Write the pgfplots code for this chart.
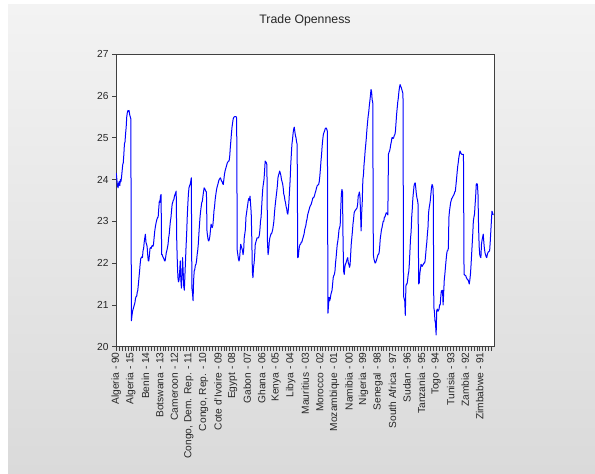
\documentclass[border=0pt]{standalone}
\usepackage{pgfplots}
\pgfplotsset{compat=1.18}
\usepackage{fontspec}
\setmainfont{Liberation Sans}
\definecolor{bgtop}{HTML}{F3F3F3}
\definecolor{bgbot}{HTML}{DADADA}
\definecolor{frame}{HTML}{404040}
\begin{document}
\begin{tikzpicture}
\useasboundingbox (0pt,0pt) rectangle (595pt,474pt);
\fill[white] (0pt,0pt) rectangle (595pt,474pt);
\shade[top color=bgtop, bottom color=bgbot] (8pt,0pt) rectangle (595pt,469pt);
\node[font=\fontsize{12.3}{14}\selectfont, text=black!85] at (305pt,454pt) {Trade Openness};
\begin{axis}[
  at={(116pt,127.3pt)}, anchor=south west,
  scale only axis, width=378pt, height=292.7pt,
  xmin=-0.5, xmax=649.5, ymin=20, ymax=27,
  axis background/.style={fill=white},
  axis line style={frame, line width=0.9pt},
  ytick={20,21,...,27},
  xtick={0,25,...,625},
  minor xtick={0,5,...,645},
  xticklabels={Algeria - 90, Algeria - 15, Benin - 14, Botswana - 13, Cameroon - 12, {Congo, Dem. Rep. - 11}, {Congo, Rep. - 10}, Cote d'Ivoire - 09, Egypt - 08, Gabon - 07, Ghana - 06, Kenya - 05, Libya - 04, Mauritius - 03, Morocco - 02, Mozambique - 01, Namibia - 00, Nigeria - 99, Senegal - 98, South  Africa - 97, Sudan - 96, Tanzania - 95, Togo - 94, Tunisia - 93, Zambia - 92, Zimbabwe - 91},
  xtick pos=left, ytick pos=left,
  tick align=outside,
  major tick length=4pt, minor tick length=4pt,
  every tick/.style={frame, line width=0.6pt},
  xticklabel style={rotate=90, anchor=east, font=\fontsize{10.2}{12}\selectfont, text=black!85, inner sep=1.5pt},
  yticklabel style={font=\fontsize{10.2}{12}\selectfont, text=black!85},
  /pgf/number format/assume math mode=true,
  clip=true,
]
\addplot[color=blue, line width=1pt, mark=none, line join=round] table[row sep=\\, x expr=\coordindex, y index=0] {
y\\
24.15\\24.0\\23.85\\23.8\\23.9\\23.95\\23.85\\24.0\\23.95\\24.05\\24.2\\24.35\\24.4\\24.6\\24.85\\24.9\\25.1\\25.25\\25.5\\25.6\\25.65\\25.62\\25.65\\25.55\\25.5\\25.45\\
20.62\\20.75\\20.85\\20.9\\20.95\\21.0\\21.05\\21.15\\21.2\\21.2\\21.3\\21.35\\21.5\\21.65\\21.8\\21.97\\22.1\\22.13\\22.15\\22.13\\22.3\\22.35\\22.5\\22.6\\22.69\\22.5\\
22.45\\22.4\\22.2\\22.05\\22.05\\22.2\\22.35\\22.37\\22.35\\22.4\\22.42\\22.4\\22.45\\22.6\\22.75\\22.85\\22.93\\23.0\\23.05\\23.09\\23.1\\23.3\\23.48\\23.45\\23.6\\23.64\\
22.2\\22.2\\22.15\\22.13\\22.1\\22.05\\22.05\\22.15\\22.25\\22.3\\22.37\\22.45\\22.6\\22.69\\22.85\\23.0\\23.09\\23.25\\23.4\\23.45\\23.5\\23.52\\23.6\\23.64\\23.68\\23.72\\
22.5\\22.0\\21.65\\21.55\\21.6\\21.8\\22.05\\21.6\\21.4\\21.7\\22.13\\21.8\\21.45\\21.35\\21.7\\22.05\\22.4\\22.7\\23.1\\23.4\\23.65\\23.8\\23.85\\23.88\\23.95\\24.04\\
21.4\\21.3\\21.1\\21.6\\21.81\\21.85\\21.95\\21.97\\22.05\\22.2\\22.3\\22.45\\22.69\\22.9\\23.1\\23.24\\23.35\\23.45\\23.48\\23.6\\23.7\\23.8\\23.78\\23.75\\23.72\\23.7\\
22.75\\22.65\\22.55\\22.53\\22.57\\22.65\\22.8\\22.93\\22.88\\22.85\\22.9\\23.05\\23.25\\23.35\\23.52\\23.62\\23.72\\23.8\\23.85\\23.9\\23.96\\24.0\\24.02\\24.04\\24.0\\23.96\\
23.95\\23.9\\23.88\\24.0\\24.12\\24.2\\24.25\\24.3\\24.35\\24.4\\24.42\\24.44\\24.44\\24.55\\24.75\\24.92\\25.1\\25.25\\25.35\\25.45\\25.48\\25.5\\25.5\\25.5\\25.5\\25.47\\
22.3\\22.2\\22.1\\22.05\\22.1\\22.3\\22.45\\22.4\\22.35\\22.3\\22.2\\22.3\\22.6\\22.7\\22.8\\23.1\\23.2\\23.3\\23.4\\23.5\\23.55\\23.5\\23.6\\23.4\\23.2\\22.6\\
21.8\\21.65\\21.9\\22.0\\22.2\\22.45\\22.5\\22.55\\22.6\\22.6\\22.6\\22.62\\22.67\\22.8\\23.0\\23.1\\23.35\\23.6\\23.8\\23.9\\24.0\\24.2\\24.44\\24.42\\24.4\\24.35\\
22.5\\22.2\\22.3\\22.5\\22.6\\22.65\\22.7\\22.7\\22.75\\22.8\\22.9\\23.0\\23.2\\23.35\\23.48\\23.6\\23.72\\23.85\\24.04\\24.1\\24.15\\24.2\\24.15\\24.1\\24.0\\23.95\\
23.9\\23.8\\23.65\\23.6\\23.5\\23.45\\23.35\\23.3\\23.2\\23.17\\23.3\\23.5\\23.75\\24.0\\24.35\\24.6\\24.84\\24.95\\25.1\\25.2\\25.25\\25.15\\25.05\\25.0\\24.9\\24.84\\
22.13\\22.15\\22.3\\22.4\\22.45\\22.45\\22.5\\22.5\\22.55\\22.6\\22.65\\22.7\\22.8\\22.85\\22.9\\23.0\\23.05\\23.15\\23.2\\23.25\\23.3\\23.35\\23.38\\23.4\\23.45\\23.5\\
23.56\\23.56\\23.58\\23.62\\23.68\\23.72\\23.78\\23.83\\23.86\\23.87\\23.88\\23.95\\24.08\\24.25\\24.44\\24.6\\24.8\\24.95\\25.07\\25.12\\25.15\\25.2\\25.23\\25.23\\25.2\\25.15\\
20.8\\21.0\\21.18\\21.1\\21.15\\21.25\\21.3\\21.35\\21.5\\21.65\\21.7\\21.73\\21.8\\22.0\\22.13\\22.3\\22.45\\22.53\\22.65\\22.8\\22.85\\22.9\\23.3\\23.64\\23.76\\23.7\\
22.45\\21.8\\21.73\\21.9\\21.97\\22.0\\22.05\\22.1\\22.13\\22.0\\21.97\\21.9\\21.95\\22.2\\22.45\\22.6\\22.75\\22.93\\23.05\\23.2\\23.24\\23.26\\23.28\\23.3\\23.32\\23.4\\
23.6\\23.64\\23.7\\23.6\\23.2\\22.77\\23.2\\23.48\\24.0\\24.1\\24.35\\24.5\\24.7\\24.84\\25.0\\25.2\\25.35\\25.5\\25.6\\25.75\\25.87\\26.0\\26.15\\26.1\\25.9\\25.85\\
22.21\\22.1\\22.05\\22.0\\22.01\\22.05\\22.1\\22.15\\22.2\\22.21\\22.25\\22.4\\22.6\\22.69\\22.8\\22.85\\22.93\\23.0\\23.0\\23.1\\23.1\\23.15\\23.2\\23.2\\23.18\\23.15\\
24.6\\24.65\\24.68\\24.75\\24.84\\24.9\\25.0\\25.0\\24.98\\25.0\\25.05\\25.07\\25.15\\25.35\\25.55\\25.7\\25.85\\25.95\\26.1\\26.2\\26.27\\26.23\\26.2\\26.15\\26.1\\26.05\\
21.2\\21.15\\21.1\\20.75\\21.45\\21.5\\21.5\\21.6\\21.73\\21.8\\22.0\\22.3\\22.6\\22.75\\23.1\\23.3\\23.55\\23.7\\23.85\\23.9\\23.92\\23.8\\23.65\\23.56\\23.5\\23.4\\
21.5\\21.53\\21.75\\21.85\\21.97\\21.95\\21.92\\21.95\\21.97\\22.0\\22.0\\22.05\\22.2\\22.37\\22.5\\22.7\\22.85\\23.2\\23.32\\23.4\\23.5\\23.65\\23.8\\23.88\\23.85\\23.75\\
20.94\\20.85\\20.62\\20.55\\20.28\\20.86\\20.9\\20.85\\20.86\\20.9\\21.0\\21.0\\21.2\\21.34\\21.3\\21.35\\21.0\\21.3\\21.6\\21.73\\21.9\\22.05\\22.2\\22.29\\22.3\\22.35\\
23.1\\23.25\\23.35\\23.45\\23.5\\23.55\\23.56\\23.6\\23.62\\23.65\\23.7\\23.72\\23.85\\24.0\\24.15\\24.3\\24.4\\24.52\\24.6\\24.68\\24.65\\24.62\\24.6\\24.6\\24.6\\24.6\\
21.73\\21.72\\21.7\\21.7\\21.65\\21.63\\21.6\\21.6\\21.55\\21.5\\21.6\\21.73\\21.95\\22.2\\22.45\\22.7\\23.0\\23.1\\23.17\\23.4\\23.6\\23.88\\23.9\\23.88\\23.64\\22.85\\
22.4\\22.2\\22.15\\22.13\\22.45\\22.55\\22.62\\22.69\\22.5\\22.35\\22.25\\22.2\\22.15\\22.13\\22.2\\22.25\\22.27\\22.28\\22.29\\22.5\\22.75\\23.0\\23.24\\23.2\\23.16\\23.16\\
};
\end{axis}
\end{tikzpicture}
\end{document}
